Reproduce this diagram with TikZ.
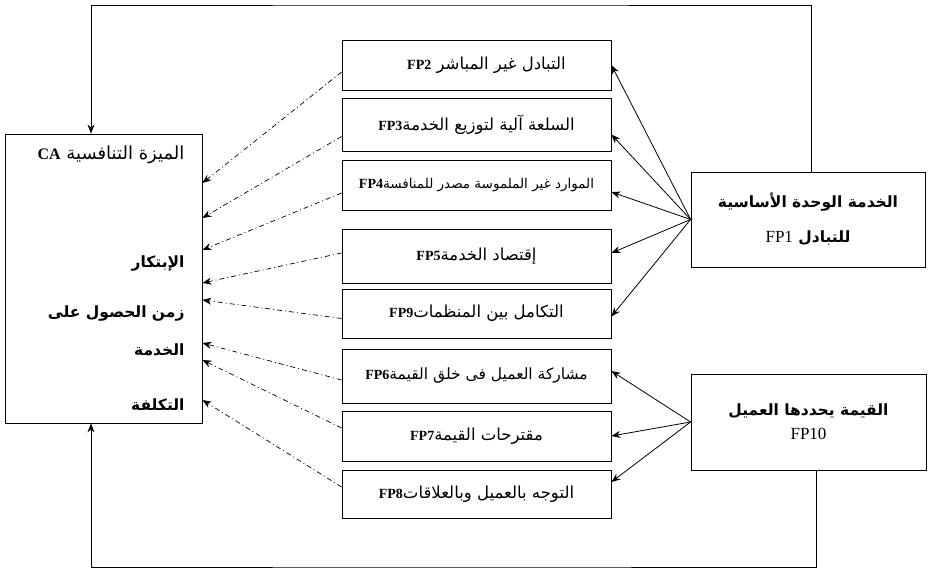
\documentclass[tikz,border=0pt]{standalone}
\usepackage{fontspec}
\setmainfont{Liberation Serif}
\newfontfamily\arabicfont[Script=Arabic]{DejaVu Sans}
\TeXXeTstate=1
\usetikzlibrary{arrows.meta}
\newcommand\fpl[1]{\beginL{\rmfamily\bfseries\fontsize{14}{16}\selectfont #1}\endL}
\newcommand\fpn[1]{\beginL{\rmfamily\mdseries\fontsize{17}{19}\selectfont #1}\endL}

\begin{document}
\begin{tikzpicture}[x=1pt,y=-1pt,
    box/.style={draw,line width=0.8pt,inner sep=0pt},
    midbox/.style={box,minimum width=269pt,minimum height=50pt,font=\arabicfont\fontsize{16.5}{18}\selectfont},
    catext/.style={anchor=east,font=\arabicfont\bfseries\fontsize{15.5}{17}\selectfont},
    feed/.style={line width=0.8pt,-{Stealth[length=9pt,width=7pt]}},
    back/.style={line width=0.7pt,dash pattern=on 5pt off 3pt on 1pt off 3pt,-{Stealth[length=9pt,width=7pt]}}]
  \useasboundingbox (0,0) rectangle (931,572);

  % competitive advantage
  \node (ca) [box,minimum width=197pt,minimum height=289pt] at (103.5,278.5) {};
  \node [anchor=east,font=\arabicfont\fontsize{18}{20}\selectfont] at (188,155) {\beginR الميزة التنافسية \beginL{\rmfamily\bfseries\fontsize{16}{18}\selectfont CA}\endL\endR};
  \node [catext] at (188,264) {\beginR الإبتكار\endR};
  \node [catext] at (188,314) {\beginR زمن الحصول على\endR};
  \node [catext] at (188,350) {\beginR الخدمة\endR};
  \node [catext] at (188,405) {\beginR التكلفة\endR};

  % middle column
  \node (fp2) [midbox] at (476.5,65) {\hspace{20pt}\beginR التبادل غير المباشر \fpl{FP2}\endR};
  \node (fp3) [midbox,minimum height=53pt] at (476.5,124.5) {\beginR السلعة آلية لتوزيع الخدمة\fpl{FP3}\endR};
  \node (fp4) [midbox,font=\arabicfont\fontsize{13.5}{15}\selectfont] at (476.5,185) {\beginR الموارد غير الملموسة مصدر للمنافسة\fpl{FP4}\endR};
  \node (fp5) [midbox,minimum height=54pt] at (476.5,256) {\beginR إقتصاد الخدمة\fpl{FP5}\endR};
  \node (fp9) [midbox,minimum height=49pt] at (476.5,313.5) {\beginR التكامل بين المنظمات\fpl{FP9}\endR};
  \node (fp6) [midbox,minimum height=54pt,font=\arabicfont\fontsize{15.5}{17}\selectfont] at (476.5,376) {\beginR مشاركة العميل فى خلق القيمة\fpl{FP6}\endR};
  \node (fp7) [midbox] at (476.5,436) {\beginR مقترحات القيمة\fpl{FP7}\endR};
  \node (fp8) [midbox,minimum height=48pt] at (476.5,494) {\beginR التوجه بالعميل وبالعلاقات\fpl{FP8}\endR};

  % right column
  \node (fp1) [box,minimum width=234pt,minimum height=95pt,align=center,
    font=\arabicfont\bfseries\fontsize{15.5}{17}\selectfont] at (808,219.5)
    {\beginR الخدمة الوحدة الأساسية\endR\\[18pt]\beginR للتبادل \fpn{FP1}\endR};
  \node (fp10) [box,minimum width=235pt,minimum height=96pt,align=center,
    font=\arabicfont\bfseries\fontsize{15.5}{17}\selectfont] at (808.5,422)
    {\beginR القيمة يحددها العميل\endR\\[7pt]\fpn{FP10}};

  \draw[feed] (fp1.west) -- (fp2.east);
  \draw[feed] (fp1.west) -- ([yshift=-10pt]fp3.east);
  \draw[feed] (fp1.west) -- ([yshift=-7pt]fp4.east);
  \draw[feed] (fp1.west) -- ([yshift=3pt]fp5.east);
  \draw[feed] (fp1.west) -- ([yshift=-3pt]fp9.east);
  \draw[feed] (fp10.west) -- ([yshift=5pt]fp6.east);
  \draw[feed] (fp10.west) -- (fp7.east);
  \draw[feed] (fp10.west) -- ([yshift=12pt]fp8.east);

  \draw[back] ([yshift=-7pt]fp2.west) -- ([yshift=95.5pt]ca.east);
  \draw[back] ([yshift=-12pt]fp3.west) -- ([yshift=60.5pt]ca.east);
  \draw[back] ([yshift=-8pt]fp4.west) -- ([yshift=28.5pt]ca.east);
  \draw[back] ([yshift=3pt]fp5.west) -- ([yshift=-4.5pt]ca.east);
  \draw[back] ([yshift=-5pt]fp9.west) -- ([yshift=-21.5pt]ca.east);
  \draw[back] ([yshift=-4pt]fp6.west) -- ([yshift=-64.5pt]ca.east);
  \draw[back] ([yshift=8pt]fp7.west) -- ([yshift=-81.5pt]ca.east);
  \draw[back] ([yshift=7pt]fp8.west) -- ([yshift=-121.5pt]ca.east);

  % loops
  \coordinate (top) at (450,5);
  \coordinate (bot) at (450,567);
  \draw[feed] ([xshift=3pt]fp1.north) |- (top) -| ([xshift=-12.5pt]ca.north);
  \draw[feed] ([xshift=7.5pt]fp10.south) |- (bot) -| ([xshift=-12.5pt]ca.south);
\end{tikzpicture}
\end{document}
